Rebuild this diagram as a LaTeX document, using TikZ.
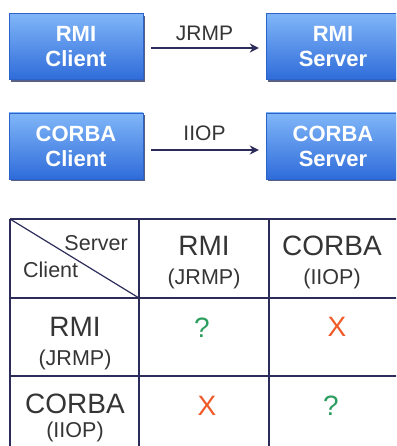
\documentclass[tikz,border=0pt]{standalone}
\usepackage{fontspec}
\setmainfont{Liberation Sans}
\usepackage{xcolor}
\usepackage{tikz}
\usetikzlibrary{arrows.meta,positioning,shadows}
\definecolor{boxtop}{HTML}{80B6F8}
\definecolor{boxbot}{HTML}{2F6CDA}
\definecolor{boxedge}{HTML}{2C63C8}
\definecolor{shadc}{HTML}{3A4470}
\definecolor{navc}{HTML}{2C2C5A}
\definecolor{txtc}{HTML}{353535}
\definecolor{okc}{HTML}{2E9E60}
\definecolor{noc}{HTML}{F05A28}
\tikzset{
  ar/.style={-{Stealth[length=3.2mm,width=3.2mm]},line width=2.4pt,navc},
  bx/.style={rectangle,draw=boxedge,line width=0.3pt,top color=boxtop,bottom color=boxbot,
    minimum width=134pt,minimum height=66pt,inner sep=0pt,align=center,text=white,
    font=\fontsize{22}{25}\selectfont\bfseries,
    drop shadow={shadow xshift=1.5pt,shadow yshift=-2.5pt,fill=shadc,opacity=0.85}},
  lb/.style={inner sep=0pt,text=txtc,font=\fontsize{21}{24}\selectfont},
  grid/.style={line width=2.8pt,navc},
  hd/.style={inner sep=0pt,anchor=base,text=txtc,font=\fontsize{28}{30}\selectfont},
  sb/.style={inner sep=0pt,anchor=base,text=txtc,font=\fontsize{21.5}{24}\selectfont},
  mk/.style={inner sep=0pt,anchor=base,font=\fontsize{28}{30}\selectfont}
}
\begin{document}
\begin{tikzpicture}[x=1pt,y=-1pt]
\useasboundingbox (0,0) rectangle (396,446);
\clip (0,0) rectangle (396,446);
% protocol boxes
\node[bx] (rmic) at (76,46.5) {RMI\\Client};
\node[bx] (rmis) at (333,46.5) {RMI\\Server};
\node[bx] (corc) at (76,146) {CORBA\\Client};
\node[bx] (cors) at (333,146) {CORBA\\Server};
\draw[ar,shorten <=8pt,shorten >=7pt] ([yshift=-1.5pt]rmic.east) -- ([yshift=-1.5pt]rmis.west)
  node[midway,above=6pt,lb]{JRMP};
\draw[ar,shorten <=8pt,shorten >=7pt] ([yshift=-4pt]corc.east) -- ([yshift=-4pt]cors.west)
  node[midway,above=8pt,lb]{IIOP};
% table
\draw[grid] (10,219) -- (400,219);
\draw[grid] (10,298) -- (400,298);
\draw[grid] (10,376) -- (400,376);
\draw[grid] (10,219) -- (10,450);
\draw[grid] (139,219) -- (139,450);
\draw[grid] (269,219) -- (269,450);
\draw[navc,line width=1.2pt] (10,219) -- (139,298);
\node[sb,anchor=base east] (srv) at (128,250) {Server};
\node[sb,anchor=base west] (cli) at (23,277) {Client};
\node[hd] (hrmi) at (204,255) {RMI};
\node[sb] (hrmip) at (204,284) {(JRMP)};
\node[hd] (hcor) at (332,255) {CORBA};
\node[sb] (hcorp) at (332,284) {(IIOP)};
\node[hd] (rrmi) at (75,336) {RMI};
\node[sb] (rrmip) at (75,365) {(JRMP)};
\node[hd] (rcor) at (75,413) {CORBA};
\node[sb] (rcorp) at (75,437) {(IIOP)};
\node[mk,text=okc] (q1) at (202,337) {?};
\node[mk,text=noc] (x1) at (337,336) {X};
\node[mk,text=noc] (x2) at (207,415) {X};
\node[mk,text=okc] (q2) at (331,415) {?};
\end{tikzpicture}
\end{document}
